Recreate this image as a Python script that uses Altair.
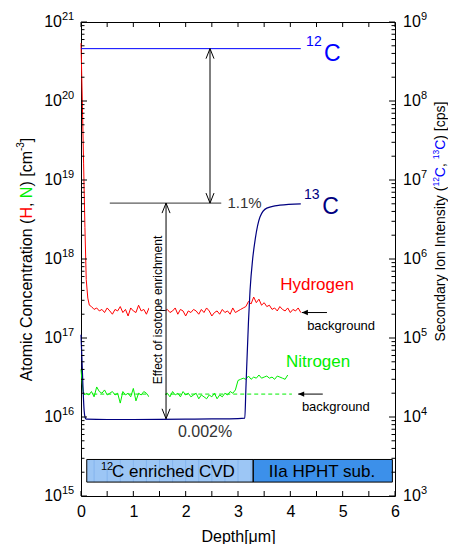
import altair as alt
import numpy as np
import pandas as pd

FONT = "Liberation Sans, Arial, Helvetica, sans-serif"
RED = "#ff0000"
GREEN = "#00ee00"
BLUE = "#0000ff"
NAVY = "#000080"
GREY = "#333333"

# ---------------- data ----------------
# Hydrogen [cm-3]
h_head_depth = [0.0, 0.025, 0.05, 0.075, 0.10, 0.13, 0.16]
h_head_conc = [5.4e20, 1.0e20, 1.6e19, 2.5e18, 5.5e17, 3.2e17, 2.6e17]
h_noise_start, h_noise_step = 0.20, 0.05
h_noise_e17 = [2.5, 2.3, 2.4, 2.2, 2.3, 2.1, 2.4, 2.2, 2.0, 2.3, 2.2, 2.5, 2.1, 2.3, 1.9,
               2.4, 2.2, 2.1, 2.6, 2.2, 2.3, 2.0, 2.4, 2.2, 2.5, 2.3, 2.1, 2.4, 2.2,
               2.3, 2.1, 2.2, 2.4, 2.0, 2.3, 2.2, 1.9, 2.2, 2.1, 2.3, 2.2, 2.0, 2.3, 2.1,
               2.4, 2.2, 1.9, 2.1, 2.2, 2.0, 2.3, 2.1, 2.2, 2.0, 2.4, 2.1, 2.2, 2.3, 2.4,
               2.5, 2.9, 2.7, 3.3, 2.8, 3.1, 2.6, 2.8, 2.5, 2.6, 2.3, 2.4, 2.2, 2.5, 2.3,
               2.2, 2.4, 2.1, 2.3, 2.2, 2.4, 2.1]

# Nitrogen [cm-3]
n_head_depth = [0.0, 0.02, 0.04, 0.07]
n_head_conc = [4.0e16, 2.8e16, 2.1e16, 1.9e16]
n_noise_start, n_noise_step = 0.10, 0.05
n_noise_e16 = [2.0, 1.9, 2.1, 1.8, 2.4, 2.1, 2.0, 2.2, 1.9, 2.0, 2.1, 1.9, 2.0, 1.5, 2.1,
               1.9, 2.0, 1.8, 2.3, 1.6, 2.0, 1.9, 2.1, 2.0, 1.8, 2.0, 2.1, 1.9, 1.7, 2.0, 1.9,
               2.0, 1.8, 2.1, 1.9, 2.0, 1.8, 2.1, 1.9, 2.0, 1.8, 1.9, 2.0, 1.7, 1.9, 1.8,
               1.7, 1.9, 1.8, 2.0, 1.7, 1.9, 1.8, 2.0, 1.9,
               2.1, 2.0, 2.2, 2.9, 3.0, 3.1, 3.0, 3.3, 3.0, 3.2, 3.1, 3.4, 3.1, 3.2, 3.3,
               3.1, 3.2, 3.0, 3.3, 3.2, 3.1, 3.0, 3.4]
n_bg_depth = [0.10, 4.03]
n_bg_conc = [1.95e16, 1.95e16]

# 13C [cps]
c13_depth = [0.0, 0.02, 0.04, 0.06, 0.08, 0.10, 0.5, 1.0, 1.5, 2.0, 2.5, 3.0, 3.13,
             3.15, 3.2, 3.23, 3.28, 3.33, 3.42, 3.55, 3.8, 4.2]
c13_cps = [1.1e5, 5.0e4, 2.2e4, 1.2e4, 9.8e3, 9.4e3, 9.3e3, 9.3e3, 9.35e3, 9.4e3, 9.45e3,
           9.55e3, 9.7e3, 2.2e4, 1.6e5, 4.0e5, 1.0e6, 1.8e6, 3.4e6, 4.4e6, 4.8e6, 5.0e6]
# 12C [cps]
c12_depth = [0.0, 4.2]
c12_cps = [4.6e8, 4.6e8]

# layer boxes
box_x1 = [0.11, 3.29]
box_x2 = [3.29, 5.95]
box_fill = ["#9cc6f5", "#3c90ea"]
box_y1, box_y2 = 1.5e15, 2.9e15
box_grid = [0.25, 0.5, 0.75, 1.0, 1.25, 1.5, 1.75, 2.0, 2.25, 2.5, 2.75, 3.0, 3.25]

# ticks
x_ticks = [0, 0.5, 1, 1.5, 2, 2.5, 3, 3.5, 4, 4.5, 5, 5.5, 6]
exp_left = [15, 16, 17, 18, 19, 20, 21]
exp_right = [3, 4, 5, 6, 7, 8, 9]

# ---------------- scales ----------------
W, H = 314, 474
xs = alt.Scale(domain=[0, 6], nice=False, zero=False)
ysL = alt.Scale(type="log", domain=[1e15, 1e21], nice=False)
ysR = alt.Scale(type="log", domain=[1e3, 1e9], nice=False)
xaxis = alt.Axis(values=[0, 1, 2, 3, 4, 5, 6], format="d", labelFontSize=16, labelFont=FONT,
                 labelColor="black", ticks=False, domain=False, grid=False, labelPadding=7,
                 labelFlush=False, title="Depth[μm]", titleFontSize=16, titleFont=FONT,
                 titleFontWeight="normal", titleColor="black", titlePadding=9)


def X(f):
    return alt.X(f, type="quantitative", scale=xs, axis=xaxis)


def YL(f):
    return alt.Y(f, type="quantitative", scale=ysL, axis=None)


def YR(f):
    return alt.Y(f, type="quantitative", scale=ysR, axis=None)


def grid(start, step, n):
    return list(np.round(start + step * np.arange(n), 3))


h_df = pd.DataFrame({
    "d": h_head_depth + grid(h_noise_start, h_noise_step, len(h_noise_e17)),
    "v": h_head_conc + [v * 1e17 for v in h_noise_e17]})
n_df = pd.DataFrame({
    "d": n_head_depth + grid(n_noise_start, n_noise_step, len(n_noise_e16)),
    "v": n_head_conc + [v * 1e16 for v in n_noise_e16]})
nbg_df = pd.DataFrame({"d": n_bg_depth, "v": n_bg_conc})
c13_df = pd.DataFrame({"d": c13_depth, "v": c13_cps})
c12_df = pd.DataFrame({"d": c12_depth, "v": c12_cps})
box_df = pd.DataFrame({"x1": box_x1, "x2": box_x2, "y1": [box_y1] * 2, "y2": [box_y2] * 2,
                       "c": box_fill})
bgrid_df = pd.DataFrame({"d": box_grid, "y1": [box_y1] * len(box_grid), "y2": [box_y2] * len(box_grid)})

layers = []
layers.append(alt.Chart(box_df).mark_rect(strokeWidth=0).encode(
    x=X("x1"), x2="x2", y=YL("y1"), y2="y2", color=alt.Color("c:N", scale=None)))
layers.append(alt.Chart(bgrid_df).mark_rule(color="#7fb0ec", strokeWidth=0.8).encode(
    x=X("d"), y=YL("y1"), y2="y2"))
layers.append(alt.Chart(box_df).mark_rect(stroke="black", strokeWidth=1, fillOpacity=0).encode(
    x=X("x1"), x2="x2", y=YL("y1"), y2="y2"))
layers.append(alt.Chart(nbg_df).mark_line(color=GREEN, strokeWidth=1, strokeDash=[4, 3]).encode(
    x=X("d"), y=YL("v")))
layers.append(alt.Chart(n_df).mark_line(color=GREEN, strokeWidth=1).encode(x=X("d"), y=YL("v")))
layers.append(alt.Chart(h_df).mark_line(color=RED, strokeWidth=1).encode(x=X("d"), y=YL("v")))
layers.append(alt.Chart(c13_df).mark_line(color=NAVY, strokeWidth=1.2, interpolate="monotone").encode(
    x=X("d"), y=YR("v")))
layers.append(alt.Chart(c12_df).mark_line(color=BLUE, strokeWidth=1).encode(x=X("d"), y=YR("v")))

# white box behind the vertical annotation text
wb = pd.DataFrame({"x1": [1.30], "x2": [1.61], "y1": [1.4e16], "y2": [2.2e18]})
layers.append(alt.Chart(wb).mark_rect(color="white").encode(x=X("x1"), x2="x2", y=YL("y1"), y2="y2"))

# annotation lines
ref = pd.DataFrame({"x1": [0.55], "x2": [2.68], "y": [5.1e18]})
layers.append(alt.Chart(ref).mark_rule(color=GREY, strokeWidth=1).encode(x=X("x1"), x2="x2", y=YL("y")))
arrows = pd.DataFrame({"x": [2.465, 1.625], "top": [4.6e20, 5.1e18], "bot": [5.1e18, 9.5e15]})
layers.append(alt.Chart(arrows).mark_rule(color="black", strokeWidth=1).encode(
    x=X("x"), y=YL("top"), y2="bot"))
layers.append(alt.Chart(arrows).mark_point(shape="M -0.4 1 L 0 0 L 0.4 1", size=400, filled=False,
                                           color="black", strokeWidth=1, opacity=1).encode(
    x=X("x"), y=YL("top")))
layers.append(alt.Chart(arrows).mark_point(shape="M -0.4 -1 L 0 0 L 0.4 -1", size=400, filled=False,
                                           color="black", strokeWidth=1, opacity=1).encode(
    x=X("x"), y=YL("bot")))
bg_arrows = pd.DataFrame({"x1": [4.70, 4.62], "x2": [4.22, 4.15], "y": [2.1e17, 1.95e16]})
layers.append(alt.Chart(bg_arrows).mark_rule(color="black", strokeWidth=1).encode(
    x=X("x1"), x2="x2", y=YL("y")))
layers.append(alt.Chart(bg_arrows).mark_point(shape="M 0 0 L 1 -0.45 L 1 0.45 Z", size=144, filled=True,
                                              color="black", opacity=1).encode(x=X("x2"), y=YL("y")))


def label(text, d, v, color="black", size=14, align="center", angle=0, scale="L"):
    df = pd.DataFrame({"d": [d], "v": [v]})
    kw = dict(text=text, color=color, fontSize=size, font=FONT, align=align, baseline="middle")
    if angle:
        kw["angle"] = angle
    return alt.Chart(df).mark_text(**kw).encode(x=X("d"), y=(YL("v") if scale == "L" else YR("v")))


layers += [
    label("Hydrogen", 4.51, 4.7e17, RED, 17),
    label("Nitrogen", 4.53, 5.0e16, GREEN, 17),
    label("background", 4.97, 1.4e17, "black", 13),
    label("background", 4.87, 1.35e16, "black", 13),
    label("0.002%", 2.37, 6.4e15, GREY, 16),
    label("1.1%", 3.125, 5.1e18, GREY, 15),
    label("12", 4.45, 5.6e20, BLUE, 14),
    label("C", 4.80, 3.9e20, BLUE, 23),
    label("13", 4.41, 6.4e18, NAVY, 14),
    label("C", 4.77, 4.6e18, NAVY, 23),
    label("Effect of isotope enrichment", 1.47, 2.26e17, "black", 12, angle=270),
    label("12", 0.38, 2.33e15, "black", 11, align="left"),
    label("C enriched CVD", 0.593, 2.0e15, "black", 17, align="left"),
    label("IIa HPHT sub.", 4.605, 2.0e15, "black", 17),
]

# ticks (inward)
xt = pd.DataFrame({"d": x_ticks})
layers.append(alt.Chart(xt).mark_rule(color="black").encode(x=X("d"), y=alt.value(0), y2=alt.value(5)))
layers.append(alt.Chart(xt).mark_rule(color="black").encode(x=X("d"), y=alt.value(H), y2=alt.value(H - 5)))
maj = pd.DataFrame({"v": [10.0 ** e for e in exp_left]})
mnr = pd.DataFrame({"v": [m * 10.0 ** e for e in exp_left[:-1] for m in range(2, 10)]})
for df, ln in ((maj, 6), (mnr, 3.5)):
    layers.append(alt.Chart(df).mark_rule(color="black").encode(y=YL("v"), x=alt.value(0), x2=alt.value(ln)))
    layers.append(alt.Chart(df).mark_rule(color="black").encode(y=YL("v"), x=alt.value(W), x2=alt.value(W - ln)))

# y tick labels 10^n
tl = pd.DataFrame({"v": [10.0 ** e for e in exp_left], "e": [str(e) for e in exp_left]})
tr = pd.DataFrame({"v": [10.0 ** e for e in exp_right], "e": [str(e) for e in exp_right]})
layers.append(alt.Chart(tl).mark_text(text="10", align="right", baseline="middle", fontSize=16, font=FONT,
                                      color="black").encode(x=alt.value(-19), y=YL("v")))
layers.append(alt.Chart(tl).mark_text(align="left", baseline="middle", fontSize=11, font=FONT, dy=-5,
                                      color="black").encode(x=alt.value(-19), y=YL("v"), text="e:N"))
layers.append(alt.Chart(tr).mark_text(text="10", align="left", baseline="middle", fontSize=16, font=FONT,
                                      color="black").encode(x=alt.value(W + 8), y=YR("v")))
layers.append(alt.Chart(tr).mark_text(align="left", baseline="middle", fontSize=11, font=FONT, dy=-5, dx=18,
                                      color="black").encode(x=alt.value(W + 8), y=YR("v"), text="e:N"))

# rotated multi-coloured axis titles
CW = {'A': .667, 't': .278, 'o': .556, 'm': .833, 'i': .222, 'c': .5, ' ': .278, 'C': .722, 'n': .556,
      'e': .556, 'r': .333, 'a': .556, '(': .333, 'H': .722, ',': .278, 'N': .722, ')': .333, '[': .278,
      ']': .278, '-': .333, '3': .556, 'S': .667, 'd': .556, 'y': .5, 'I': .278, 's': .5, '1': .556,
      '2': .556, 'p': .556}


def tw(s, fs):
    return sum(CW[ch] for ch in s) * fs


def vtitle(segs, cx, cy):
    total = sum(tw(s, fs) for s, _, fs, _ in segs)
    out, cum = [], 0.0
    for s, col, fs, raise_ in segs:
        out.append(alt.Chart(pd.DataFrame({"a": [0]})).mark_text(
            text=s, angle=270, align="left", baseline="middle", dx=cum - total / 2, dy=raise_,
            fontSize=fs, font=FONT, color=col).encode(x=alt.value(cx), y=alt.value(cy)))
        cum += tw(s, fs)
    return out


left_title = [("Atomic Concentration (", "black", 16, 0), ("H", RED, 16, 0), (", ", "black", 16, 0),
              ("N", GREEN, 16, 0), (") [cm", "black", 16, 0), ("-3", "black", 10, -6), ("]", "black", 16, 0)]
right_title = [("Secondary Ion Intensity (", "black", 14, 0), ("12", BLUE, 8.5, -5), ("C", BLUE, 14, 0),
               (", ", "black", 14, 0), ("13", BLUE, 8.5, -5), ("C", BLUE, 14, 0), (") [cps]", "black", 14, 0)]
layers += vtitle(left_title, -54, 237.5)
layers += vtitle(right_title, 360, 199.5)

chart = alt.layer(*layers).resolve_scale(y="independent").properties(
    width=W, height=H, autosize=alt.AutoSizeParams(type="none"),
    padding={"left": 73, "top": 14, "right": 53, "bottom": 48},
    background="white",
).configure_view(stroke="black", strokeWidth=1)

chart.save("out.html", embed_options={"renderer": "svg", "actions": False})
